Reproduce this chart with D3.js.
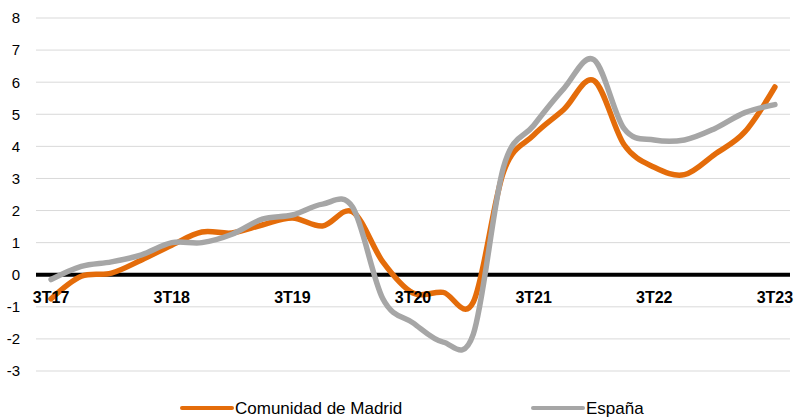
<!DOCTYPE html>
<html>
<head>
<meta charset="utf-8">
<script src="https://cdn.jsdelivr.net/npm/d3@7"></script>
<style>
  body { margin: 0; background: #fff; }
  svg { display: block; font-family: "Liberation Sans", Arial, sans-serif; }
</style>
</head>
<body>
<svg id="chart" width="795" height="417"></svg>
<script>
// quarters 3T17 .. 3T23
var quarters = ["3T17","4T17","1T18","2T18","3T18","4T18","1T19","2T19","3T19","4T19","1T20","2T20",
                "3T20","4T20","1T21","2T21","3T21","4T21","1T22","2T22","3T22","4T22","1T23","2T23","3T23"];

var madrid = [-0.75, -0.05, 0.05, 0.46, 0.92, 1.33, 1.3, 1.55, 1.77, 1.52, 1.96, 0.4,
              -0.57, -0.55, -0.85, 3.2, 4.35, 5.15, 6.05, 4.05, 3.35, 3.12, 3.75, 4.45, 5.85];

var espana = [-0.15, 0.26, 0.4, 0.62, 1.0, 1.0, 1.26, 1.73, 1.86, 2.2, 2.1, -0.75,
              -1.5, -2.1, -1.85, 3.35, 4.65, 5.8, 6.7, 4.55, 4.2, 4.2, 4.55, 5.05, 5.3];

var yTicks = [-3, -2, -1, 0, 1, 2, 3, 4, 5, 6, 7, 8];
var xLabels = ["3T17", "3T18", "3T19", "3T20", "3T21", "3T22", "3T23"];

var series = [
  {name: "Comunidad de Madrid", values: madrid, color: "#E46C0A", lx: 182},
  {name: "España", values: espana, color: "#A6A6A6", lx: 533}
];

var svg = d3.select("#chart");

var x = d3.scalePoint().domain(quarters).range([36, 790]).padding(0.5);
var y = d3.scaleLinear().domain([-3, 8]).range([371, 18]);

// gridlines
svg.append("g").selectAll("line")
  .data(yTicks.filter(function(d){ return d !== 0; }))
  .enter().append("line")
  .attr("x1", 36).attr("x2", 790)
  .attr("y1", function(d){ return y(d); })
  .attr("y2", function(d){ return y(d); })
  .attr("stroke", "#D9D9D9").attr("stroke-width", 1);

// y tick labels
svg.append("g").selectAll("text")
  .data(yTicks)
  .enter().append("text")
  .attr("x", 20)
  .attr("y", function(d){ return y(d); })
  .attr("dy", "0.36em")
  .attr("text-anchor", "end")
  .attr("font-size", 15)
  .attr("fill", "#000")
  .text(function(d){ return d; });

// zero line
svg.append("line")
  .attr("x1", 36).attr("x2", 790)
  .attr("y1", y(0)).attr("y2", y(0))
  .attr("stroke", "#000").attr("stroke-width", 4);

// series lines
var line = d3.line()
  .x(function(d, i){ return x(quarters[i]); })
  .y(function(d){ return y(d); })
  .curve(d3.curveCardinal.tension(0));

svg.append("g").selectAll("path")
  .data(series)
  .enter().append("path")
  .attr("d", function(s){ return line(s.values); })
  .attr("fill", "none")
  .attr("stroke", function(s){ return s.color; })
  .attr("stroke-width", 5.5)
  .attr("stroke-linecap", "round")
  .attr("stroke-linejoin", "round");

// category labels (drawn over the lines)
svg.append("g").selectAll("text")
  .data(xLabels)
  .enter().append("text")
  .attr("x", function(d){ return x(d); })
  .attr("y", 303)
  .attr("text-anchor", "middle")
  .attr("font-size", 16)
  .attr("font-weight", "bold")
  .attr("fill", "#000")
  .text(function(d){ return d; });

// legend
var leg = svg.append("g").selectAll("g")
  .data(series)
  .enter().append("g");

leg.append("line")
  .attr("x1", function(s){ return s.lx; })
  .attr("x2", function(s){ return s.lx + 50; })
  .attr("y1", 408).attr("y2", 408)
  .attr("stroke", function(s){ return s.color; })
  .attr("stroke-width", 4)
  .attr("stroke-linecap", "round");

leg.append("text")
  .attr("x", function(s){ return s.lx + 53; })
  .attr("y", 414)
  .attr("font-size", 17)
  .attr("fill", "#000")
  .text(function(s){ return s.name; });
</script>
</body>
</html>
